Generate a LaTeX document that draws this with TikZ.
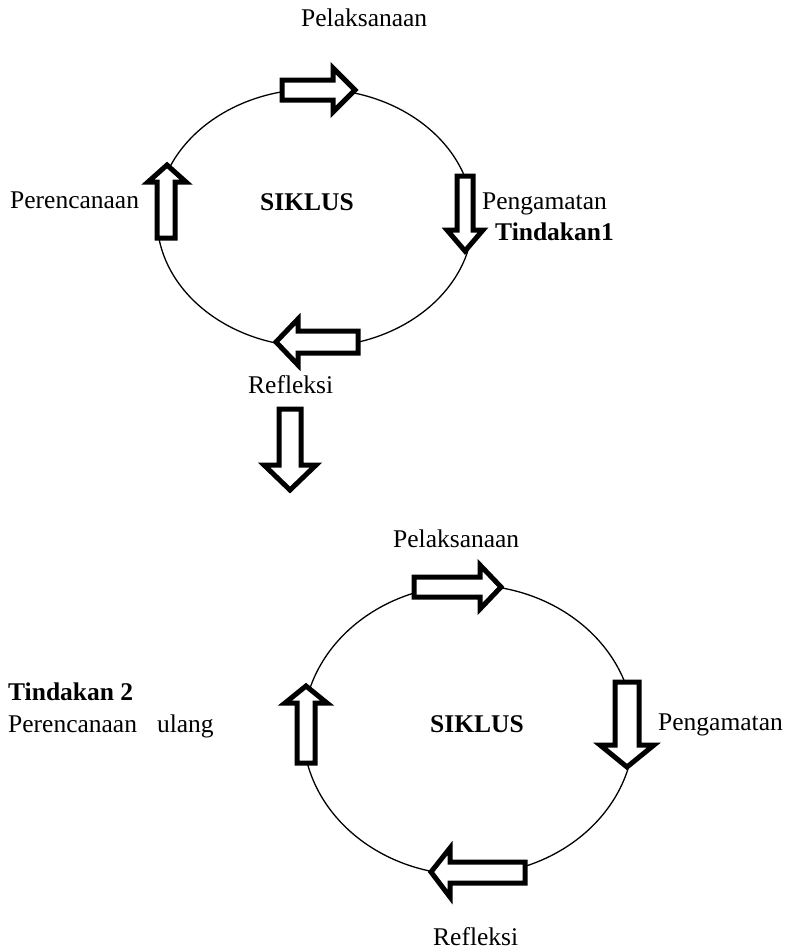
\documentclass[tikz,border=0pt]{standalone}
\usepackage{fontspec}
\setmainfont{Liberation Serif}
\begin{document}
\begin{tikzpicture}[x=1pt,y=-1pt,
  blockarrow/.style={draw=black,line width=5pt,fill=white,miter limit=10},
  cyc/.style={draw=black,line width=1.3pt},
  lbl/.style={anchor=base west,inner sep=0pt,font=\fontsize{25.5}{30}\selectfont},
  blbl/.style={lbl,font=\fontsize{25.5}{30}\selectfont\bfseries}]
\useasboundingbox[fill=white] (0,0) rectangle (792,951);

% ---------- cycle 1 ----------
\draw[cyc] (315,218) ellipse [x radius=158pt, y radius=129pt];
% top arrow (right)
\draw[blockarrow] (282,80) -- (333,80) -- (333,68) -- (355,90) -- (333,112) -- (333,100) -- (282,100) -- cycle;
% right arrow (down)
\draw[blockarrow] (457,176) -- (473,176) -- (473,230) -- (483,230) -- (465,251) -- (447,230) -- (457,230) -- cycle;
% bottom arrow (left)
\draw[blockarrow] (358,331) -- (358,353) -- (298,353) -- (298,365) -- (276,342) -- (298,319) -- (298,331) -- cycle;
% left arrow (up)
\draw[blockarrow] (157,238) -- (175,238) -- (175,182) -- (186,182) -- (167,165) -- (148,182) -- (157,182) -- cycle;

\node[lbl]  (p1) at (301,26)  {Pelaksanaan};
\node[lbl]  (r1) at (10,208)  {Perencanaan};
\node[blbl] (s1) at (260,210) {SIKLUS};
\node[lbl]  (g1) at (482,209) {Pengamatan};
\node[blbl] (t1) at (495,240) {Tindakan1};
\node[lbl]  (f1) at (248,393) {Refleksi};

% ---------- transition arrow ----------
\draw[blockarrow] (279,409) -- (301,409) -- (301,465) -- (316,465) -- (290,490) -- (264,465) -- (279,465) -- cycle;

% ---------- cycle 2 ----------
\draw[cyc] (468.5,730) ellipse [x radius=165.5pt, y radius=145pt];
% top arrow (right)
\draw[blockarrow] (414,577) -- (480,577) -- (480,565) -- (501,587) -- (480,609) -- (480,597) -- (414,597) -- cycle;
% right arrow (down)
\draw[blockarrow] (615,682) -- (639,682) -- (639,745) -- (654,745) -- (627,767) -- (600,745) -- (615,745) -- cycle;
% bottom arrow (left)
\draw[blockarrow] (525,862) -- (525,883) -- (450,883) -- (450,897) -- (431,872) -- (450,848) -- (450,862) -- cycle;
% left arrow (up)
\draw[blockarrow] (297,763) -- (315,763) -- (315,703) -- (327,703) -- (306,686) -- (285,703) -- (297,703) -- cycle;

\node[lbl]  (p2) at (393,547) {Pelaksanaan};
\node[blbl] (t2) at (8,700)   {Tindakan 2};
\node[lbl]  (r2) at (8,732)   {Perencanaan\hspace{20pt}ulang};
\node[blbl] (s2) at (430,732) {SIKLUS};
\node[lbl]  (g2) at (658,730) {Pengamatan};
\node[lbl]  (f2) at (433,945) {Refleksi};
\end{tikzpicture}
\end{document}
